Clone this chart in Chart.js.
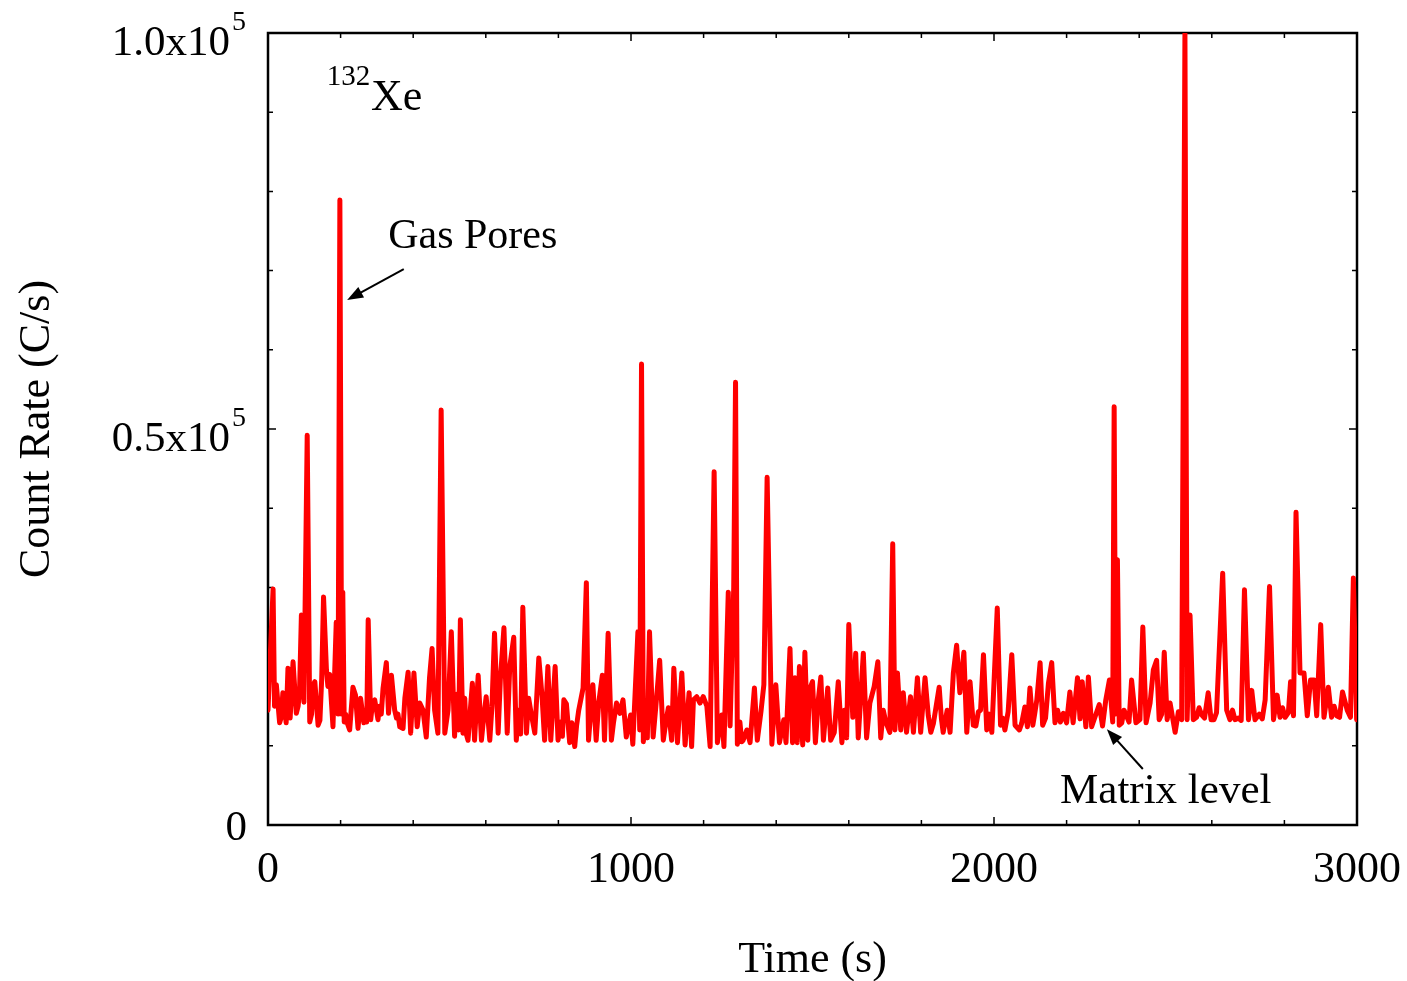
<!DOCTYPE html>
<html>
<head>
<meta charset="utf-8">
<title>132Xe count rate</title>
<script src="https://cdn.jsdelivr.net/npm/chart.js@4.4.1/dist/chart.umd.min.js"></script>
<style>
  html, body { margin: 0; padding: 0; background: #fff; }
  #wrap { width: 1407px; height: 981px; position: relative; }
</style>
</head>
<body>
<div id="wrap"><canvas id="myChart"></canvas></div>
<script>
// 132Xe count rate (C/s) against time (s), in three stretches of the run

// 0 - 1080 s
const timeEarly = [
  0, 5, 14, 18, 23, 32, 36, 41, 50, 55,
  61, 69, 78, 83, 87, 92, 99, 108, 115, 120,
  124, 129, 138, 143, 148, 153, 161, 165, 170, 179,
  188, 193, 198, 203, 206, 210, 214, 219, 225, 234,
  241, 248, 255, 264, 268, 272, 276, 283, 288, 294,
  303, 307, 312, 317, 326, 332, 340, 349, 354, 358,
  363, 372, 377, 386, 393, 402, 411, 418, 427, 436,
  445, 452, 459, 468, 477, 487, 496, 505, 514, 520,
  525, 530, 537, 542, 546, 551, 563, 569, 579, 588,
  594, 601, 611, 617, 624, 634, 640, 650, 659, 666,
  677, 684, 690, 696, 702, 712, 718, 725, 735, 746,
  755, 762, 771, 779, 791, 799, 806, 811, 815, 822,
  831, 837, 845, 850, 856, 868, 877, 883, 895, 904,
  911, 921, 927, 937, 946, 952, 960, 969, 978, 987,
  999, 1005, 1019, 1024, 1029, 1034, 1040, 1045, 1051, 1061,
  1070, 1079
];
const countEarly = [
  14500, 20000, 29800, 15000, 17700, 12900, 13500, 16700, 12900, 19800,
  13500, 20600, 14100, 15000, 17000, 26500, 15500, 49200, 13000, 14000,
  17600, 18100, 12600, 13200, 18500, 28800, 19600, 17500, 19000, 12400,
  25600, 14000, 78900, 14000, 29400, 13000, 14000, 12800, 12000, 17400,
  16400, 12200, 16000, 12900, 14500, 13000, 25900, 13300, 15500, 15800,
  13300, 15000, 14000, 17300, 20500, 14100, 18900, 14500, 13500, 14000,
  12400, 12200, 16000, 19300, 11600, 19200, 12400, 15400, 14500, 11100,
  18600, 22300, 14500, 11600, 52400, 11600, 14500, 24400, 11200, 16500,
  12000, 25900, 11600, 16000, 11500, 10700, 17900, 10700, 18900, 10700,
  13500, 16200, 10700, 15000, 24200, 11600, 18300, 24900, 11600, 20000,
  23700, 10700, 14500, 11500, 27500, 11600, 16000, 14100, 11600, 21100,
  16200, 10700, 20000, 10700, 20000, 10700, 13000, 11200, 15800, 15300,
  10400, 12900, 9900, 12500, 14500, 17300, 30600, 10700, 17700, 10700,
  15400, 18900, 10700, 24200, 10700, 13000, 15400, 14100, 15800, 11100,
  13900, 10200, 24400, 12000, 58200, 10500, 14000, 11000, 24400, 11100,
  15800, 20800
];

// 1089 - 2183 s
const timeMiddle = [
  1089, 1096, 1103, 1112, 1118, 1128, 1140, 1149, 1160, 1167,
  1172, 1181, 1190, 1199, 1209, 1218, 1229, 1238, 1244, 1250,
  1256, 1268, 1273, 1283, 1288, 1293, 1300, 1305, 1309, 1319,
  1328, 1340, 1348, 1358, 1366, 1375, 1388, 1393, 1399, 1409,
  1421, 1427, 1438, 1445, 1452, 1458, 1464, 1473, 1479, 1487,
  1491, 1500, 1508, 1516, 1523, 1530, 1542, 1550, 1560, 1571,
  1581, 1588, 1594, 1600, 1611, 1619, 1626, 1632, 1640, 1649,
  1658, 1670, 1680, 1688, 1695, 1702, 1713, 1721, 1727, 1734,
  1743, 1750, 1759, 1770, 1778, 1789, 1798, 1810, 1819, 1826,
  1833, 1849, 1855, 1860, 1871, 1879, 1888, 1897, 1906, 1917,
  1925, 1934, 1943, 1950, 1957, 1963, 1971, 1980, 1987, 1994,
  2009, 2018, 2024, 2030, 2039, 2049, 2058, 2070, 2076, 2085,
  2092, 2099, 2107, 2112, 2118, 2127, 2134, 2142, 2150, 2159,
  2168, 2175, 2183
];
const countMiddle = [
  10700, 13000, 14800, 10700, 19800, 10400, 19200, 10100, 16700, 9900,
  15800, 16200, 15400, 16200, 15000, 9900, 44600, 10400, 12500, 13900,
  9900, 29400, 12500, 30000, 55900, 10200, 13000, 10500, 10700, 12000,
  10400, 17300, 10700, 14300, 17700, 43900, 10200, 13500, 17700, 10400,
  13300, 10400, 22300, 10400, 18600, 10400, 20000, 10100, 21800, 10700,
  17000, 18100, 10400, 15800, 18700, 10700, 17300, 10700, 11700, 18100,
  10400, 14500, 11000, 25300, 13600, 21700, 11000, 15500, 21700, 11000,
  15400, 17500, 20600, 11000, 14500, 13000, 11700, 35500, 12000, 19200,
  12000, 16700, 11700, 16200, 11700, 18600, 11700, 18600, 13800, 11700,
  12800, 17400, 13500, 11700, 14500, 11700, 19200, 22700, 16700, 21800,
  11700, 18100, 12600, 12500, 14300, 14500, 21500, 12000, 14000, 11700,
  27400, 12600, 13500, 12000, 14300, 21500, 12600, 12000, 12800, 14900,
  12400, 17300, 12600, 14000, 15800, 20500, 12600, 13500, 17900, 20500,
  12900, 14500, 13000
];

// 2191 - 3000 s
const timeLate = [
  2191, 2200, 2209, 2218, 2230, 2237, 2243, 2253, 2260, 2269,
  2278, 2290, 2299, 2308, 2318, 2327, 2331, 2335, 2340, 2345,
  2352, 2358, 2365, 2372, 2379, 2391, 2402, 2410, 2419, 2430,
  2439, 2448, 2455, 2462, 2469, 2477, 2485, 2499, 2508, 2517,
  2526, 2532, 2540, 2549, 2558, 2565, 2572, 2580, 2590, 2598,
  2606, 2613, 2630, 2641, 2650, 2657, 2664, 2673, 2681, 2690,
  2701, 2710, 2719, 2731, 2739, 2747, 2759, 2770, 2780, 2788,
  2795, 2802, 2811, 2817, 2825, 2832, 2843, 2854, 2863, 2872,
  2882, 2889, 2900, 2909, 2921, 2930, 2937, 2944, 2952, 2960,
  2973, 2982, 2990, 2999
];
const countLate = [
  14100, 12900, 16800, 12900, 18600, 13400, 18100, 12400, 18700, 12400,
  13600, 15200, 12500, 15800, 18300, 13000, 52800, 14000, 33500, 12600,
  12900, 14500, 13800, 13000, 18300, 12900, 13300, 25000, 12900, 15400,
  19600, 20800, 13300, 14000, 21800, 13300, 15400, 11700, 14300, 13300,
  100000, 13300, 26500, 13300, 13600, 14800, 13900, 13500, 16700, 13300,
  13300, 14200, 31800, 14500, 13300, 14500, 13300, 13500, 13200, 29700,
  13300, 17000, 13300, 14000, 13400, 15800, 30100, 13300, 16400, 13600,
  14800, 13600, 14200, 18100, 13800, 39500, 19200, 19200, 13800, 18300,
  18300, 13800, 25300, 13600, 17400, 13600, 15000, 13800, 13600, 16800,
  14500, 13600, 31200, 13300
];

const xTicks = [0, 1000, 2000, 3000];
const xTickLabels = ['0', '1000', '2000', '3000'];
const xMinorStep = 200;
const yTicks = [0, 50000, 100000];
const yTickLabels = [['0', ''], ['0.5x10', '5'], ['1.0x10', '5']];
const yMinorStep = 10000;

const serif = "'Liberation Serif', 'Times New Roman', serif";

function arrow(ctx, x1, y1, x2, y2) {
  const ang = Math.atan2(y2 - y1, x2 - x1);
  const len = 16, half = 6;
  ctx.beginPath();
  ctx.moveTo(x1, y1);
  ctx.lineTo(x2 - Math.cos(ang) * len * 0.8, y2 - Math.sin(ang) * len * 0.8);
  ctx.stroke();
  ctx.beginPath();
  ctx.moveTo(x2, y2);
  ctx.lineTo(x2 - Math.cos(ang) * len - Math.sin(ang) * half, y2 - Math.sin(ang) * len + Math.cos(ang) * half);
  ctx.lineTo(x2 - Math.cos(ang) * len + Math.sin(ang) * half, y2 - Math.sin(ang) * len - Math.cos(ang) * half);
  ctx.closePath();
  ctx.fill();
}

// box round the plot with inward ticks on all four sides
const frame = {
  id: 'frame',
  beforeDatasetsDraw(chart) {
    const { ctx, chartArea: a, scales: { x, y } } = chart;
    ctx.save();
    ctx.strokeStyle = '#000';
    ctx.lineWidth = 2.5;
    ctx.strokeRect(a.left, a.top, a.right - a.left, a.bottom - a.top);
    ctx.lineWidth = 1.5;
    ctx.beginPath();
    for (let v = x.min; v <= x.max; v += xMinorStep) {
      const px = x.getPixelForValue(v);
      const len = xTicks.includes(v) ? 8 : 5;
      ctx.moveTo(px, a.bottom); ctx.lineTo(px, a.bottom - len);
      ctx.moveTo(px, a.top); ctx.lineTo(px, a.top + len);
    }
    for (let v = y.min; v <= y.max; v += yMinorStep) {
      const py = y.getPixelForValue(v);
      const len = yTicks.includes(v) ? 8 : 5;
      ctx.moveTo(a.left, py); ctx.lineTo(a.left + len, py);
      ctx.moveTo(a.right, py); ctx.lineTo(a.right - len, py);
    }
    ctx.stroke();
    ctx.restore();
  }
};

// tick labels, axis titles and notes
const labels = {
  id: 'labels',
  afterDraw(chart) {
    const { ctx, chartArea: a, scales: { x, y } } = chart;
    ctx.save();
    ctx.fillStyle = '#000';
    ctx.strokeStyle = '#000';

    ctx.font = '44px ' + serif;
    ctx.textAlign = 'center';
    ctx.textBaseline = 'alphabetic';
    xTicks.forEach((v, i) => {
      ctx.fillText(xTickLabels[i], x.getPixelForValue(v), a.bottom + 57);
    });

    ctx.textAlign = 'right';
    yTicks.forEach((v, i) => {
      const py = y.getPixelForValue(v);
      const [base, sup] = yTickLabels[i];
      if (!sup) {
        ctx.font = '43px ' + serif;
        ctx.fillText(base, a.left - 21, py + 15);
        return;
      }
      ctx.font = '28px ' + serif;
      const supW = ctx.measureText(sup).width;
      ctx.fillText(sup, a.left - 22, py - 3);
      ctx.font = '43px ' + serif;
      ctx.fillText(base, a.left - 24 - supW, py + 22);
    });

    ctx.font = '44px ' + serif;
    ctx.textAlign = 'center';
    ctx.fillText('Time (s)', (a.left + a.right) / 2, a.bottom + 147);

    ctx.save();
    ctx.translate(49, (a.top + a.bottom) / 2);
    ctx.rotate(-Math.PI / 2);
    ctx.fillText('Count Rate (C/s)', 0, 0);
    ctx.restore();

    // isotope label
    ctx.textAlign = 'left';
    ctx.font = '29px ' + serif;
    ctx.fillText('132', x.getPixelForValue(162), y.getPixelForValue(93400));
    ctx.font = '44px ' + serif;
    ctx.fillText('Xe', x.getPixelForValue(284), y.getPixelForValue(90300));

    // notes with arrows
    ctx.font = '42px ' + serif;
    ctx.fillText('Gas Pores', x.getPixelForValue(331), y.getPixelForValue(72800));
    ctx.font = '43px ' + serif;
    ctx.fillText('Matrix level', x.getPixelForValue(2182), y.getPixelForValue(2800));
    ctx.lineWidth = 2;
    arrow(ctx, x.getPixelForValue(374), y.getPixelForValue(70200),
      x.getPixelForValue(218), y.getPixelForValue(66300));
    arrow(ctx, x.getPixelForValue(2410), y.getPixelForValue(7070),
      x.getPixelForValue(2311), y.getPixelForValue(12100));
    ctx.restore();
  }
};

const timeSec = timeEarly.concat(timeMiddle, timeLate);
const countRate = countEarly.concat(countMiddle, countLate);
const points = timeSec.map((t, i) => ({ x: t, y: countRate[i] }));

new Chart('myChart', {
  type: 'line',
  data: {
    datasets: [{
      label: '132Xe',
      data: points,
      borderColor: '#ff0000',
      borderWidth: 5,
      borderJoinStyle: 'round',
      borderCapStyle: 'round',
      pointRadius: 0,
      tension: 0,
      fill: false
    }]
  },
  options: {
    responsive: true,
    maintainAspectRatio: false,
    animation: false,
    layout: { padding: { left: 268, right: 50, top: 33, bottom: 156 } },
    plugins: { legend: { display: false }, tooltip: { enabled: false } },
    scales: {
      x: { type: 'linear', min: 0, max: 3000, display: false },
      y: { type: 'linear', min: 0, max: 100000, display: false }
    }
  },
  plugins: [frame, labels]
});
</script>
</body>
</html>
